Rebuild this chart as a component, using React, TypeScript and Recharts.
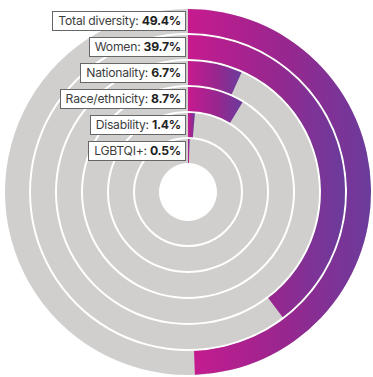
import { RadialBarChart, RadialBar, PolarAngleAxis, LabelList } from "recharts";

// inner ring first, outer ring last
const categories = ["LGBTQI+", "Disability", "Race/ethnicity", "Nationality", "Women", "Total diversity"];
const shares = [0.5, 1.4, 8.7, 6.7, 39.7, 49.4];

const data = categories.map((name, i) => ({ name, value: shares[i] }));

const CX = 188;
const CY = 192;

// label box sitting just left of where each ring starts (12 o'clock)
const RingLabel = (props: any) => {
  const { viewBox, index } = props;
  if (!viewBox) return null;
  const r = (viewBox.innerRadius + viewBox.outerRadius) / 2;
  const y = viewBox.cy - r;
  const w = 190;
  const h = 22;
  return (
    <foreignObject x={viewBox.cx - w - 2} y={y - h / 2} width={w} height={h}>
      <div style={{ display: "flex", justifyContent: "flex-end", height: "100%", alignItems: "center" }}>
        <span
          style={{
            fontFamily: "Inter, 'Open Sans', sans-serif",
            fontSize: 12.2,
            color: "#3d3d3d",
            background: "#fff",
            border: "1.5px solid #666",
            padding: "0 4px 0 5px",
            lineHeight: "18px",
            whiteSpace: "nowrap",
            letterSpacing: -0.25,
          }}
        >
          {categories[index]}: <b style={{ color: "#222" }}>{shares[index].toFixed(1)}%</b>
        </span>
      </div>
    </foreignObject>
  );
};

export default function App() {
  return (
    <div style={{ position: "fixed", left: 0, top: 0, background: "#fff" }}>
      <RadialBarChart
        width={373}
        height={377}
        cx={CX}
        cy={CY}
        innerRadius={28}
        outerRadius={184}
        startAngle={90}
        endAngle={-270}
        data={data}
        barCategoryGap={1}
        margin={{ top: 0, right: 0, bottom: 0, left: 0 }}
      >
        <defs>
          <linearGradient id="divGrad" x1="0" y1="0" x2="1" y2="0">
            <stop offset="0%" stopColor="#c71a8f" />
            <stop offset="55%" stopColor="#96278f" />
            <stop offset="100%" stopColor="#6a3c9c" />
          </linearGradient>
        </defs>
        <PolarAngleAxis type="number" domain={[0, 100]} tick={false} axisLine={false} />
        <RadialBar
          dataKey="value"
          background={{ fill: "#d1cfcd" }}
          fill="url(#divGrad)"
          isAnimationActive={false}
        >
          <LabelList dataKey="value" content={<RingLabel />} />
        </RadialBar>
      </RadialBarChart>
    </div>
  );
}
